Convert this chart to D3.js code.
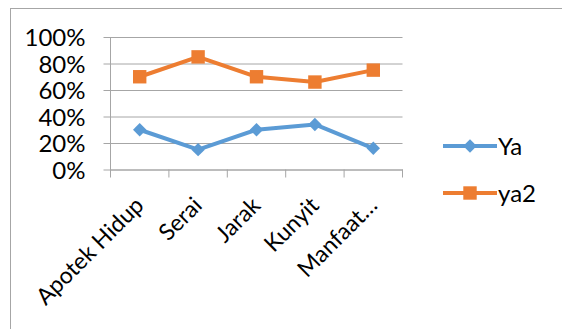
<!DOCTYPE html>
<html>
<head>
<meta charset="utf-8">
<script src="https://cdn.jsdelivr.net/npm/d3@7"></script>
<style>
  body { margin: 0; background: #fff; }
  text { font-family: Lato, "Open Sans", sans-serif; fill: #000; }
</style>
</head>
<body>
<div id="vis"></div>
<script>
// categories and series values (fractions)
const categories = ["Apotek Hidup", "Serai", "Jarak", "Kunyit", "Manfaat…"];
const yaValues = [0.30, 0.15, 0.30, 0.34, 0.16];
const ya2Values = [0.70, 0.85, 0.70, 0.66, 0.75];
const yTicks = [0, 0.2, 0.4, 0.6, 0.8, 1.0];
const seriesNames = ["Ya", "ya2"];
const seriesColors = ["#5b9bd5", "#ed7d31"];

var width = 562;
var height = 329;
var plot = { left: 110.5, right: 402.5, top: 37, bottom: 169.5 };

var svg = d3.select('#vis')
  .append('svg')
  .attr('width', width)
  .attr('height', height);

// outer frame
svg.append('rect')
  .attr('x', 10.5).attr('y', 8.5)
  .attr('width', 600).attr('height', 400)
  .attr('fill', 'none')
  .attr('stroke', '#a6a6a6');

var x = d3.scaleBand()
  .domain(categories)
  .range([plot.left, plot.right]);

var y = d3.scaleLinear()
  .domain([0, 1])
  .range([plot.bottom, plot.top]);

// gridlines + left tick marks
var yAxis = d3.axisLeft(y)
  .tickValues(yTicks)
  .tickSize(-(plot.right - plot.left))
  .tickFormat(d3.format('.0%'));

var gy = svg.append('g')
  .attr('transform', 'translate(' + plot.left + ',0)')
  .call(yAxis);
gy.select('.domain').remove();
gy.selectAll('.tick line')
  .attr('x1', -7)
  .attr('stroke', '#a6a6a6');
gy.selectAll('.tick text')
  .attr('x', -25)
  .attr('dy', '0.36em')
  .style('font-size', '24px')
  .style('font-family', 'Lato, sans-serif');

// vertical axis line
svg.append('line')
  .attr('x1', plot.left).attr('x2', plot.left)
  .attr('y1', plot.top).attr('y2', plot.bottom + 8)
  .attr('stroke', '#a6a6a6');

// category axis: baseline and ticks between categories
var xAxis = d3.axisBottom(x).tickSize(0).tickFormat('');
var gx = svg.append('g')
  .attr('transform', 'translate(0,' + plot.bottom + ')')
  .call(xAxis);
gx.select('.domain').attr('stroke', '#a6a6a6');

svg.selectAll('.cat-tick')
  .data(categories)
  .enter().append('line')
  .attr('class', 'cat-tick')
  .attr('x1', function (d) { return x(d) + x.bandwidth(); })
  .attr('x2', function (d) { return x(d) + x.bandwidth(); })
  .attr('y1', plot.bottom)
  .attr('y2', plot.bottom + 8)
  .attr('stroke', '#a6a6a6');

svg.selectAll('.cat-label')
  .data(categories)
  .enter().append('text')
  .attr('class', 'cat-label')
  .attr('text-anchor', 'end')
  .attr('transform', function (d) {
    var cx = x(d) + x.bandwidth() / 2 - 6;
    return 'translate(' + cx + ',' + (plot.bottom + 26) + ') rotate(-45)';
  })
  .attr('dy', '0.7em')
  .style('font-size', '23px')
  .text(function (d) { return d; });

// series
var series = [yaValues, ya2Values];
var line = d3.line()
  .x(function (d, i) { return x(categories[i]) + x.bandwidth() / 2; })
  .y(function (d) { return y(d); });

var diamond = d3.symbol().type(d3.symbolSquare).size(90);
var square = d3.symbol().type(d3.symbolSquare).size(180);

function drawMarker(g, k, px, py) {
  if (k === 0) {
    g.append('path')
      .attr('d', diamond())
      .attr('transform', 'translate(' + px + ',' + py + ') rotate(45)')
      .attr('fill', seriesColors[k]);
  } else {
    g.append('path')
      .attr('d', square())
      .attr('transform', 'translate(' + px + ',' + py + ')')
      .attr('fill', seriesColors[k]);
  }
}

series.forEach(function (vals, k) {
  var g = svg.append('g');
  g.append('path')
    .datum(vals)
    .attr('d', line)
    .attr('fill', 'none')
    .attr('stroke', seriesColors[k])
    .attr('stroke-width', 4)
    .attr('stroke-linejoin', 'round');
  vals.forEach(function (v, i) {
    drawMarker(g, k, x(categories[i]) + x.bandwidth() / 2, y(v));
  });
});

// legend
var legendY = [146, 193];
seriesNames.forEach(function (name, k) {
  var g = svg.append('g');
  g.append('line')
    .attr('x1', 443).attr('x2', 497)
    .attr('y1', legendY[k]).attr('y2', legendY[k])
    .attr('stroke', seriesColors[k])
    .attr('stroke-width', 4);
  drawMarker(g, k, 470, legendY[k]);
  g.append('text')
    .attr('x', 498)
    .attr('y', legendY[k])
    .attr('dy', '0.36em')
    .style('font-size', '24px')
    .text(name);
});
</script>
</body>
</html>
